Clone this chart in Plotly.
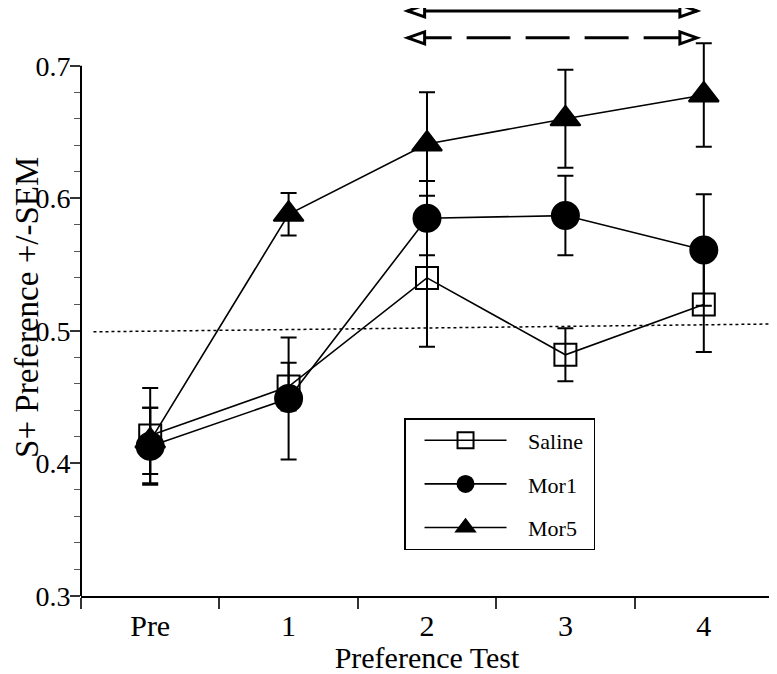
import plotly.graph_objects as go

# ---- data ----
tests = ["Pre", "1", "2", "3", "4"]
x_pos = [0, 1, 2, 3, 4]
saline = [0.421, 0.458, 0.540, 0.482, 0.520]
saline_sem = [0.036, 0.018, 0.052, 0.020, 0.036]
mor1 = [0.413, 0.449, 0.585, 0.587, 0.561]
mor1_sem = [0.029, 0.046, 0.028, 0.030, 0.042]
mor5 = [0.417, 0.588, 0.641, 0.660, 0.678]
mor5_sem = [0.025, 0.016, 0.039, 0.037, 0.039]

y_major = [0.3, 0.4, 0.5, 0.6, 0.7]
chance_x = [-0.41, 4.5]
chance_y = [0.4993, 0.5052]
# significance arrows (span of tests 2..4)
arrow_x = [1.86, 3.95]
arrow_y_solid = 0.7414
arrow_y_dash = 0.7211

FONT = "Liberation Serif"
BLACK = "black"
LEAD = "\u00a0\u00a0\u00a0"
TRAIL = "\u00a0"

fig = go.Figure()

fig.add_trace(go.Scatter(
    x=chance_x, y=chance_y, mode="lines",
    line=dict(color=BLACK, width=1.5, dash="dot"),
    showlegend=False, hoverinfo="skip"))

def add_series(name, y, err, symbol, size, group):
    fig.add_trace(go.Scatter(
        x=x_pos, y=y, name=LEAD + name + TRAIL, mode="lines+markers",
        legendgroup=group,
        line=dict(color=BLACK, width=1.6),
        marker=dict(symbol=symbol, size=size, color=BLACK,
                    line=dict(color=BLACK, width=2)),
        error_y=dict(type="data", array=err, visible=True,
                     color=BLACK, thickness=2, width=8),
        cliponaxis=False))

add_series("Saline", saline, saline_sem, "square-open", 22, "a")
add_series("Mor1", mor1, mor1_sem, "circle", 27, "b")
add_series("Mor5", mor5, mor5_sem, "triangle-up", 26, "c")

shapes = []
# left axis line only from 0.3 to 0.7
shapes.append(dict(type="line", xref="paper", yref="y", x0=0, x1=0,
                   y0=y_major[0], y1=y_major[-1],
                   line=dict(color=BLACK, width=2), layer="above"))
# arrows
shapes.append(dict(type="line", xref="x", yref="y", x0=arrow_x[0], x1=arrow_x[1],
                   y0=arrow_y_solid, y1=arrow_y_solid,
                   line=dict(color=BLACK, width=3)))
shapes.append(dict(type="line", xref="x", yref="y", x0=arrow_x[0], x1=arrow_x[1] - 0.02,
                   y0=arrow_y_dash, y1=arrow_y_dash,
                   line=dict(color=BLACK, width=3, dash="44px,15px")))
for yv in (arrow_y_solid, arrow_y_dash):
    shapes.append(dict(type="path", xref="x", yref="y",
                       xsizemode="pixel", ysizemode="pixel",
                       xanchor=arrow_x[0], yanchor=yv,
                       path="M 0 0 L 17 6 L 17 -6 Z",
                       fillcolor="white", line=dict(color=BLACK, width=3),
                       layer="above"))
    shapes.append(dict(type="path", xref="x", yref="y",
                       xsizemode="pixel", ysizemode="pixel",
                       xanchor=arrow_x[1], yanchor=yv,
                       path="M 0 0 L -17 6 L -17 -6 Z",
                       fillcolor="white", line=dict(color=BLACK, width=3),
                       layer="above"))

minor_y = [round(0.3 + 0.02 * i, 2) for i in range(1, 20) if i % 5 != 0]
minor_x = [v - 0.5 for v in x_pos] + [x_pos[-1] + 0.5]

fig.update_layout(
    width=769, height=666,
    margin=dict(l=73, r=4, t=0, b=76),
    paper_bgcolor="white", plot_bgcolor="white",
    font=dict(family=FONT, color=BLACK, size=28),
    shapes=shapes,
    showlegend=True,
    legend=dict(x=0.4668, y=0.3027, xanchor="left", yanchor="top",
                bgcolor="white", bordercolor=BLACK, borderwidth=1.5,
                font=dict(family=FONT, size=22, color=BLACK),
                traceorder="grouped", tracegroupgap=12, itemwidth=82,
                indentation=14),
    annotations=[dict(text="S+ Preference +/-SEM", textangle=-90,
                      xref="paper", yref="paper", x=0, y=0.49,
                      xanchor="center", yanchor="middle", xshift=-54,
                      showarrow=False, font=dict(family=FONT, size=33, color=BLACK))],
    xaxis=dict(range=[-0.5, 4.5], tickmode="array", tickvals=x_pos, ticktext=tests,
               ticks="", showgrid=False, zeroline=False,
               showline=True, linecolor=BLACK, linewidth=2,
               ticklabelstandoff=2, tickfont=dict(size=30),
               minor=dict(tickmode="array", tickvals=minor_x, ticks="outside",
                          ticklen=11, tickwidth=1.5, tickcolor="#333"),
               title=dict(text="Preference Test", font=dict(size=30), standoff=11)),
    yaxis=dict(range=[0.3, 0.7436], tickmode="array", tickvals=y_major,
               tickformat=".1f", ticks="outside", ticklen=10, tickwidth=1.5,
               tickcolor="#333", showgrid=False, zeroline=False, showline=False,
               ticklabelstandoff=-6,
               minor=dict(tickmode="array", tickvals=minor_y, ticks="outside",
                          ticklen=6, tickwidth=1, tickcolor="#555")),
)

fig.write_html("out.html")
